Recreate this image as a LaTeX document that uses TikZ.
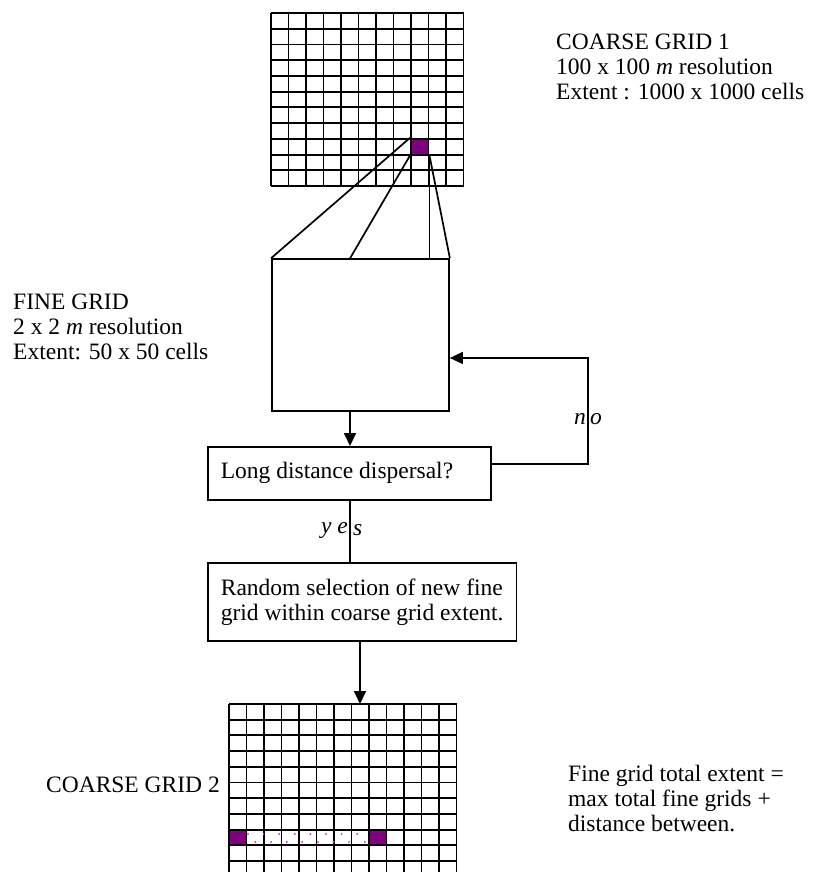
\documentclass[tikz,border=0pt]{standalone}
\usepackage{fontspec}
\setmainfont{Liberation Serif}
\usetikzlibrary{arrows.meta, positioning}
\definecolor{cellfill}{HTML}{800080}
\definecolor{dotpink}{HTML}{C040C0}

\tikzset{
  gridline/.style={line width=1.9pt},
  cellbox/.style={draw, fill=cellfill, line width=1.9pt, inner sep=0pt,
    minimum width=17.5pt, minimum height=15.7pt},
  flowbox/.style={draw, line width=1.7pt, align=left, inner xsep=13pt,
    inner ysep=0pt},
  link/.style={line width=1.7pt},
  arr/.style={line width=1.7pt, -{Triangle[length=13pt,width=12pt]}},
  txt/.style={align=left, inner sep=0pt},
  ital/.style={inner sep=0pt, font=\fontsize{23.5}{25}\selectfont\itshape}
}

\begin{document}
\begin{tikzpicture}[x=1pt, y=-1pt, font=\fontsize{23.5}{25}\selectfont]
  \path[use as bounding box, clip] (0,0) rectangle (839,872);

  % coarse grid 1
  \foreach \i in {0,...,11}
    \draw[gridline] (271+17.5*\i,13) -- (271+17.5*\i,186);
  \foreach \j in {0,...,11}
    \draw[gridline] (271,13+15.73*\j) -- (463.5,13+15.73*\j);
  \node[cellbox] (cell1) at (419.75,146.6) {};

  \node[txt, anchor=north west] (c1lbl) at (556,34)
    {COARSE GRID 1\\100 x 100 \textit{m} resolution\\Extent : 1000 x 1000 cells};

  % fine grid
  \node[draw, line width=1.7pt, minimum width=177pt, minimum height=152pt] (fine) at (360.5,335) {};
  \draw[link] (cell1.north west) -- (fine.north west);
  \draw[link] (cell1.south west) -- ([xshift=79pt]fine.north west);
  \draw[link] (cell1.south east) -- (cell1.south east |- fine.north);
  \draw[link] (cell1.south east) -- (fine.north east);

  \node[txt, anchor=north west] (finelbl) at (13,294)
    {FINE GRID\\2 x 2 \textit{m} resolution\\Extent: 50 x 50 cells};

  % flow
  \node[flowbox, anchor=north west, minimum width=283pt, minimum height=53pt] (dec) at (207,446)
    {Long distance dispersal?\hspace*{25pt}};
  \node[flowbox, anchor=north west, minimum height=78pt] (rnd) at (207,562)
    {Random selection of new fine\\grid within coarse grid extent.};

  \draw[arr] ([xshift=-10.5pt]fine.south) -- ([xshift=-10.5pt]fine.south |- dec.north);

  \coordinate (nobend) at (588,358);
  \draw[arr] ([yshift=9.5pt]dec.east) -| (nobend) -- (nobend -| fine.east);
  \node[ital, anchor=east] (lbln) at (586,419) {n};
  \node[ital, anchor=west] (lblo) at (590,419) {o};

  \coordinate (yesx) at (350,0);
  \draw[link] (yesx |- dec.south) -- (yesx |- rnd.north);
  \node[ital, anchor=east] (lblye) at (348,530) {y e};
  \node[ital, anchor=west] (lbls) at (353,530) {s};

  % coarse grid 2
  \coordinate (c2) at (229,704);
  \coordinate (rndout) at (360,0);
  \draw[arr] (rndout |- rnd.south) -- (rndout |- c2);
  \foreach \i in {0,...,13}
    \draw[gridline] (229+17.5*\i,704) -- (229+17.5*\i,880);
  \foreach \j in {0,...,10}
    \draw[gridline] (229,704+15.7*\j) -- (456.5,704+15.7*\j);
  \node[cellbox] (cellA) at (237.75,837.45) {};
  \node[cellbox] (cellB) at (377.75,837.45) {};
  \foreach \k in {0,...,7} {
    \fill[dotpink] (248+15.6*\k,834) circle (1.1pt);
    \fill[dotpink] (255.5+15.6*\k,842) circle (1.1pt);
  }

  \node[txt, anchor=east] (c2lbl) at (220,785) {COARSE GRID 2};
  \node[txt, anchor=north west] (totlbl) at (568,765)
    {Fine grid total extent =\\max total fine grids +\\distance between.};
\end{tikzpicture}
\end{document}
